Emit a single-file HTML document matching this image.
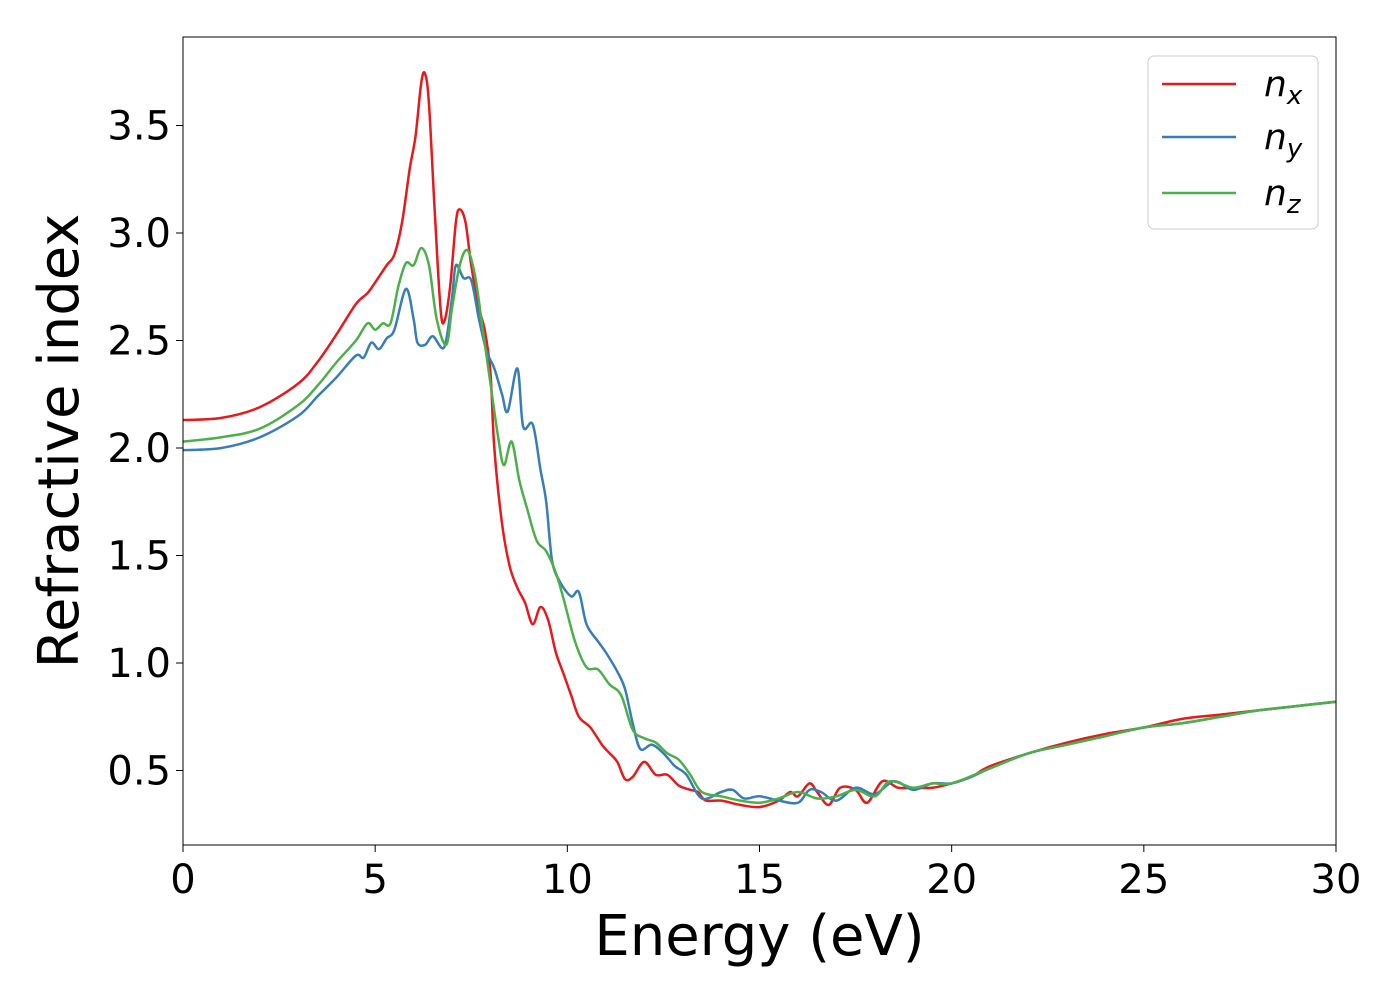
<!DOCTYPE html>
<html><head><meta charset="utf-8"><style>
body{margin:0;background:#fff;}
svg{display:block;font-family:"DejaVu Sans","Liberation Sans",sans-serif;}
</style></head><body>
<svg id="chart" width="1400" height="1000">
<g id="plot"></g>
</svg>
<script>
const energyRed=[0,1,2,3,3.5,4,4.5,4.8,5,5.3,5.5,5.7,5.9,6.05,6.2,6.3,6.4,6.55,6.7,6.8,6.95,7.1,7.2,7.35,7.5,7.7,7.85,8,8.1,8.3,8.5,8.7,8.9,9.1,9.3,9.5,9.7,9.9,10.1,10.3,10.6,10.9,11.1,11.3,11.5,11.7,12,12.3,12.6,12.9,13.2,13.4,13.6,14,14.5,15,15.5,15.8,16,16.3,16.5,16.8,17.1,17.5,17.8,18.2,18.6,19,19.5,20,20.5,21,22,23,24,25,26,27,28,29,30];
const nx=[2.13,2.14,2.19,2.30,2.40,2.53,2.67,2.72,2.77,2.85,2.90,3.05,3.30,3.45,3.70,3.74,3.60,3.10,2.65,2.59,2.75,3.05,3.11,3.05,2.85,2.65,2.55,2.35,2.00,1.65,1.45,1.35,1.28,1.18,1.26,1.20,1.05,0.95,0.85,0.75,0.70,0.62,0.58,0.54,0.46,0.47,0.54,0.48,0.48,0.43,0.41,0.40,0.36,0.36,0.34,0.33,0.36,0.40,0.38,0.44,0.40,0.34,0.42,0.41,0.35,0.45,0.42,0.42,0.42,0.44,0.47,0.52,0.58,0.63,0.67,0.70,0.74,0.76,0.78,0.80,0.82];
const energyBlue=[0,1,2,3,3.5,4,4.5,4.7,4.9,5.1,5.3,5.5,5.8,6,6.1,6.3,6.5,6.8,7,7.1,7.3,7.5,7.7,7.9,8.1,8.3,8.45,8.7,8.85,9.1,9.3,9.45,9.6,9.8,10.1,10.3,10.5,10.8,11,11.3,11.5,11.7,11.9,12.2,12.5,12.8,13.1,13.5,14,14.3,14.6,15,15.5,16,16.3,16.6,17,17.5,18,18.5,19,19.5,20,20.5,21,22,23,24,25,26,27,28,29,30];
const ny=[1.99,2.00,2.05,2.15,2.24,2.33,2.43,2.42,2.49,2.46,2.51,2.55,2.74,2.60,2.49,2.48,2.52,2.47,2.70,2.85,2.79,2.78,2.60,2.45,2.37,2.25,2.17,2.37,2.10,2.11,1.90,1.75,1.48,1.38,1.31,1.33,1.18,1.10,1.05,0.96,0.88,0.72,0.60,0.62,0.58,0.52,0.48,0.37,0.40,0.41,0.37,0.38,0.36,0.35,0.41,0.40,0.36,0.42,0.39,0.45,0.41,0.44,0.44,0.47,0.51,0.58,0.62,0.66,0.70,0.72,0.75,0.78,0.80,0.82];
const energyGreen=[0,1,2,3,3.5,4,4.5,4.8,5,5.2,5.4,5.6,5.8,6,6.2,6.4,6.6,6.85,7,7.2,7.4,7.6,7.8,8,8.2,8.35,8.55,8.75,8.95,9.2,9.45,9.7,9.9,10.2,10.5,10.8,11.1,11.4,11.7,12,12.3,12.6,12.9,13.2,13.5,14,14.5,15,15.5,16,16.5,17,17.5,18,18.4,19,19.5,20,21,22,23,24,25,26,27,28,29,30];
const nz=[2.03,2.05,2.09,2.20,2.29,2.40,2.50,2.58,2.55,2.58,2.58,2.75,2.86,2.85,2.93,2.85,2.60,2.48,2.65,2.85,2.92,2.80,2.55,2.30,2.05,1.92,2.03,1.85,1.72,1.57,1.52,1.42,1.30,1.10,0.98,0.97,0.90,0.85,0.69,0.65,0.63,0.58,0.55,0.48,0.40,0.38,0.36,0.35,0.37,0.40,0.37,0.38,0.41,0.38,0.45,0.42,0.44,0.44,0.51,0.58,0.62,0.66,0.70,0.72,0.75,0.78,0.80,0.82];
const xTicks=[0,5,10,15,20,25,30];
const yTicks=[0.5,1.0,1.5,2.0,2.5,3.0,3.5];

const X0=183,X1=1336,YT=37,YB=845;
const xs=v=>X0+(v-0)/30*(X1-X0);
const ys=v=>878-v*215;
const NS="http://www.w3.org/2000/svg";
const g=document.getElementById('plot');
function mk(t,a,p){const e=document.createElementNS(NS,t);for(const k in a)e.setAttribute(k,a[k]);(p||g).appendChild(e);return e;}
function pathFor(E,V){
  const P=E.map((e,i)=>[xs(e),ys(V[i])]);
  let d=`M${P[0][0]},${P[0][1]}`;
  for(let i=0;i<P.length-1;i++){
    const p0=P[i-1]||P[i],p1=P[i],p2=P[i+1],p3=P[i+2]||P[i+1];
    const c1=[p1[0]+(p2[0]-p0[0])/6,p1[1]+(p2[1]-p0[1])/6];
    const c2=[p2[0]-(p3[0]-p1[0])/6,p2[1]-(p3[1]-p1[1])/6];
    d+=` C${c1[0]},${c1[1]} ${c2[0]},${c2[1]} ${p2[0]},${p2[1]}`;
  }
  return d;
}
const clip=mk('clipPath',{id:'cp'});mk('rect',{x:X0,y:YT,width:X1-X0,height:YB-YT},clip);
const series=[[energyRed,nx,'#e41a1c','series-nx'],[energyBlue,ny,'#377eb8','series-ny'],[energyGreen,nz,'#4daf4a','series-nz']];
series.forEach(s=>{
  const p=mk('path',{d:pathFor(s[0],s[1]),fill:'none',stroke:s[2],'stroke-width':2.5,'clip-path':'url(#cp)'});
  
  
});
const frame=mk('rect',{x:X0,y:YT,width:X1-X0,height:YB-YT,fill:'none',stroke:'#000','stroke-width':1});


xTicks.forEach(t=>{
  mk('line',{x1:xs(t),x2:xs(t),y1:YB,y2:YB+7,stroke:'#000','stroke-width':1});
  const tx=mk('text',{x:xs(t),y:YB+48,'text-anchor':'middle','font-size':40});
  tx.textContent=t;
  
  
});
yTicks.forEach(t=>{
  mk('line',{x1:X0-7,x2:X0,y1:ys(t),y2:ys(t),stroke:'#000','stroke-width':1});
  const tx=mk('text',{x:X0-12,y:ys(t)+14,'text-anchor':'end','font-size':40});
  tx.textContent=t.toFixed(1);
  
  
});
const xl=mk('text',{x:(X0+X1)/2,y:955,'text-anchor':'middle','font-size':56});
xl.textContent='Energy (eV)';


const yl=mk('text',{x:0,y:0,'text-anchor':'middle','font-size':56,transform:`translate(78,441) rotate(-90)`});
yl.textContent='Refractive index';


const lg=mk('g',{});


mk('rect',{x:1148,y:56,width:170,height:173,rx:6,fill:'#fff',stroke:'#ccc','stroke-width':1},lg);
[['x','#e41a1c',84],['y','#377eb8',137],['z','#4daf4a',193]].forEach(l=>{
  const e=mk('g',{},lg);
  
  
  mk('line',{x1:1162,x2:1236,y1:l[2],y2:l[2],stroke:l[1],'stroke-width':2.5},e);
  const t=mk('text',{x:1264,y:l[2]+12,'font-size':36,'font-style':'italic'},e);
  t.innerHTML=`n<tspan font-size="26" dy="8">${l[0]}</tspan>`;
});
</script>
</body></html>
